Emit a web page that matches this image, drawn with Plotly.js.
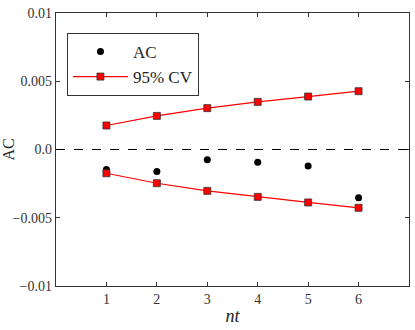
<!DOCTYPE html>
<html>
<head>
<meta charset="utf-8">
<script src="https://cdn.plot.ly/plotly-3.0.1.min.js"></script>
<style>
  html, body { margin: 0; padding: 0; background: #fff; }
  #chart { width: 415px; height: 330px; }
</style>
</head>
<body>
<div id="chart"></div>
<script>
var ntValues = [1, 2, 3, 4, 5, 6];
var acValues = [-0.00147, -0.00161, -0.00076, -0.00093, -0.0012, -0.00354];
var cvUpper = [0.00176, 0.00246, 0.00303, 0.00349, 0.00388, 0.00427];
var cvLower = [-0.00174, -0.00247, -0.00303, -0.00347, -0.00388, -0.00427];
var yTickVals = [-0.01, -0.005, 0, 0.005, 0.01];
var yTickText = ['\u22120.01', '\u22120.005', '0.0', '0.005', '0.01'];

var serif = 'Liberation Serif';

function drawChart() {
    let acTrace = {
        x: ntValues,
        y: acValues,
        mode: 'markers',
        type: 'scatter',
        name: 'AC',
        marker: {size: 7, color: 'black'}
    };

    let cvStyle = {
        mode: 'lines+markers',
        type: 'scatter',
        line: {color: 'red', width: 1.2},
        marker: {symbol: 'square', size: 7, color: 'red', line: {color: '#333', width: 0.8}}
    };

    let upperTrace = Object.assign({x: ntValues, y: cvUpper, name: '95% CV', legendgroup: 'cv'}, cvStyle);
    let lowerTrace = Object.assign({x: ntValues, y: cvLower, name: '95% CV', legendgroup: 'cv', showlegend: false}, cvStyle);

    let layout = {
        width: 415,
        height: 330,
        margin: {t: 13, r: 6, b: 44, l: 56},
        paper_bgcolor: 'white',
        plot_bgcolor: 'white',
        font: {family: serif, size: 13, color: '#222'},
        showlegend: true,
        legend: {
            x: 0.031,
            y: 0.927,
            xanchor: 'left',
            yanchor: 'top',
            bgcolor: 'white',
            bordercolor: '#333',
            borderwidth: 1,
            itemwidth: 55,
            font: {family: serif, size: 17, color: '#222'},
            tracegroupgap: 0
        },
        xaxis: {
            range: [0, 7],
            tickvals: ntValues,
            ticks: 'inside',
            ticklen: 4,
            tickcolor: '#333',
            showline: true,
            linecolor: '#333',
            linewidth: 1.2,
            mirror: 'ticks',
            showgrid: false,
            zeroline: false,
            tickfont: {family: serif, size: 14, color: '#333'},
            title: {text: '<i>nt</i>', font: {family: serif, size: 18, color: '#222'}, standoff: 3}
        },
        yaxis: {
            range: [-0.01, 0.01],
            tickvals: yTickVals,
            ticktext: yTickText,
            ticks: 'inside',
            ticklen: 4,
            tickcolor: '#333',
            showline: true,
            linecolor: '#333',
            linewidth: 1.2,
            mirror: 'ticks',
            showgrid: false,
            zeroline: false,
            tickfont: {family: serif, size: 14, color: '#333'},
            title: {text: 'AC', font: {family: serif, size: 16, color: '#222'}, standoff: 8}
        },
        shapes: [{
            type: 'line',
            xref: 'paper',
            yref: 'y',
            x0: 0,
            x1: 1,
            y0: 0,
            y1: 0,
            line: {color: 'black', width: 1, dash: 'dash'}
        }]
    };

    Plotly.newPlot('chart', [acTrace, upperTrace, lowerTrace], layout, {displayModeBar: false, staticPlot: true});
}

drawChart();
</script>
</body>
</html>
